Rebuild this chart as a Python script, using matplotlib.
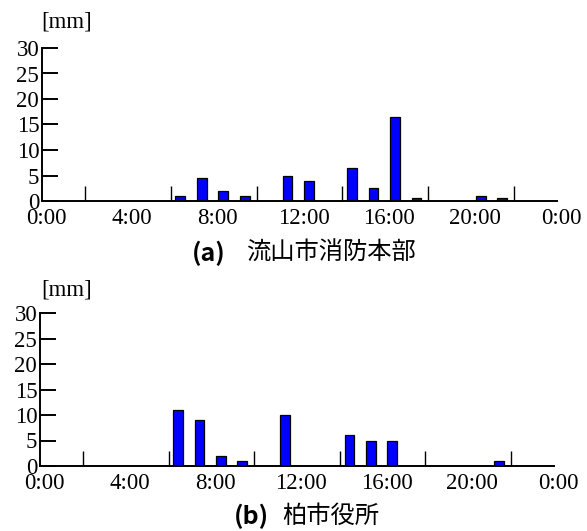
import matplotlib
matplotlib.use("Agg")
import matplotlib.pyplot as plt
import matplotlib.transforms as mtrans
import numpy as np

# hourly rainfall [mm], hour index = start of hour
hours = np.arange(24)
rain_a = [0, 0, 0, 0, 0, 0, 1, 4.5, 2, 1, 0, 5, 4, 0, 6.5, 2.5, 16.5, 0.5, 0, 0, 1, 0.5, 0, 0]
rain_b = [0, 0, 0, 0, 0, 0, 11, 9, 2, 1, 0, 10, 0, 0, 6, 5, 5, 0, 0, 0, 0, 1, 0, 0]
title_a = ("(a)", "流山市消防本部")
title_b = ("(b)", "柏市役所")
xlabels = ["0:00", "4:00", "8:00", "12:00", "16:00", "20:00", "0:00"]
yticks = [0, 5, 10, 15, 20, 25, 30]

W, H = 587, 531
fig = plt.figure(figsize=(W / 100, H / 100), dpi=100)
serif = "Liberation Serif"
cjk = ["Noto Sans CJK JP", "DejaVu Sans"]
fs = 16.5


def draw(rect, vals, mm_y, label, cap_y, tag_x, txt_x):
    l, t, r, b = rect
    ax = fig.add_axes([l / W, 1 - b / H, (r - l) / W, (b - t) / H])
    ax.bar(hours + 0.22, vals, width=0.45, align="edge",
           color="#0000ff", edgecolor="black", linewidth=0.9, zorder=3)
    ax.set_xlim(0, 24)
    ax.set_ylim(0, 30)
    for s in ["top", "right"]:
        ax.spines[s].set_visible(False)
    for s in ["left", "bottom"]:
        ax.spines[s].set_linewidth(1.4)
        ax.spines[s].set_zorder(4)
    ax.set_xticks(np.arange(0, 25, 4))
    ax.set_xticklabels(xlabels, fontfamily=serif, fontsize=fs)
    ax.set_xticks(np.arange(2, 23, 2), minor=True)
    ax.tick_params(axis="x", which="major", length=0, pad=5)
    ax.tick_params(axis="x", which="minor", direction="in", length=10.8, width=1.0)
    # labels sit a little right of the hour in the original
    shift = mtrans.ScaledTranslation(4 / 100, 0, fig.dpi_scale_trans)
    for lab in ax.get_xticklabels():
        lab.set_transform(lab.get_transform() + shift)
    ax.set_yticks(yticks)
    ax.set_yticklabels([str(v) for v in yticks], fontfamily=serif, fontsize=fs)
    ax.tick_params(axis="y", direction="in", length=11.5, width=1.4, pad=2)
    fig.text(67 / W, 1 - mm_y / H, "[mm]", fontfamily=serif, fontsize=fs,
             ha="center", va="center")
    fig.text(tag_x / W, 1 - cap_y / H, label[0], family=cjk, fontweight="bold",
             fontsize=18, ha="center", va="center")
    fig.text(txt_x / W, 1 - cap_y / H, label[1], family=cjk, fontsize=17.5,
             ha="left", va="center")
    return ax


draw((42, 48, 557, 201), rain_a, 22, title_a, 253, 209, 246)
draw((40, 313, 554, 466), rain_b, 290, title_b, 516, 251, 282)

fig.savefig("out.png", dpi=100)
